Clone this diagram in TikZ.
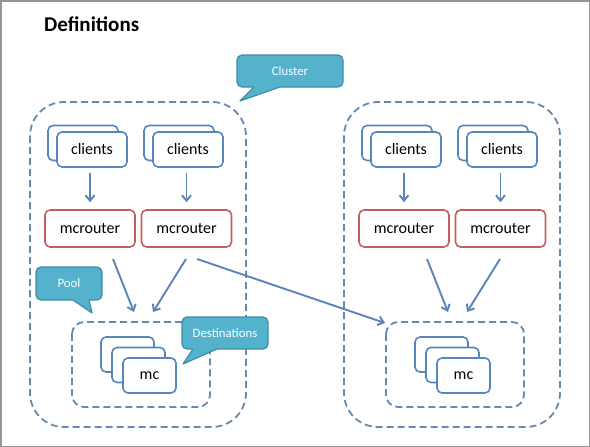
\documentclass[tikz,border=0pt]{standalone}
\usepackage{fontspec}
\setmainfont{Carlito}
\usetikzlibrary{arrows.meta}
\definecolor{boxblue}{RGB}{88,134,186}
\definecolor{dashblue}{RGB}{104,138,178}
\definecolor{arrblue}{RGB}{92,132,182}
\definecolor{mcred}{RGB}{192,96,96}
\definecolor{callfill}{RGB}{84,178,204}
\definecolor{callborder}{RGB}{62,142,168}
\definecolor{framegray}{RGB}{150,150,150}
\tikzset{
  bluebox/.style={draw=boxblue, line width=1.6pt, fill=white, rounded corners=5pt, inner sep=0pt,
    font=\fontsize{16}{18}\selectfont},
  clbox/.style={bluebox, minimum width=70pt, minimum height=35pt},
  mcbox/.style={bluebox, minimum width=53pt, minimum height=35pt},
  mrbox/.style={draw=mcred, line width=1.6pt, fill=white, rounded corners=5pt, inner sep=0pt,
    minimum width=90pt, minimum height=37pt, font=\fontsize{16}{18}\selectfont},
  dashbox/.style={draw=dashblue, line width=1.8pt, dash pattern=on 7pt off 4pt},
  arr/.style={draw=arrblue, line width=1.9pt, -{Straight Barb[length=5.5pt,width=9pt,line width=1.9pt]}},
  callbox/.style={fill=callfill, draw=callborder, line width=1.2pt, rounded corners=5pt},
  calltail/.style={draw=callborder, line width=1.2pt, line join=round},
  calltext/.style={text=white, font=\fontsize{12.8}{15}\selectfont, inner sep=0pt},
}
\begin{document}
\begin{tikzpicture}[x=1pt,y=-1pt]
\useasboundingbox (0,0) rectangle (590,447);
\fill[white] (0,0) rectangle (590,447);
\draw[framegray, line width=1.5pt] (0.75,0.75) rectangle (589.25,446.25);

\node[font=\bfseries\fontsize{21}{24}\selectfont, anchor=base west, inner sep=0pt] (title) at (44,31) {Definitions};

\foreach \ox/\p in {0/L,314/R}{
  % cluster and pool outlines
  \draw[dashbox, rounded corners=34pt] (30+\ox,102) rectangle (246+\ox,427);
  \draw[dashbox, rounded corners=12pt] (72+\ox,322) rectangle (210+\ox,407);
  % clients
  \node[clbox] (\p-cb1) at (83+\ox,143) {};
  \node[clbox] (\p-cf1) at (92+\ox,149.5) {clients};
  \node[clbox] (\p-cb2) at (179+\ox,143) {};
  \node[clbox] (\p-cf2) at (188+\ox,149.5) {clients};
  % mcrouters
  \node[mrbox] (\p-mr1) at (90+\ox,228.5) {mcrouter};
  \node[mrbox] (\p-mr2) at (186.5+\ox,228.5) {mcrouter};
  % mc stack
  \node[mcbox] (\p-mc1) at (127.5+\ox,354.5) {};
  \node[mcbox] (\p-mc2) at (138.5+\ox,365) {};
  \node[mcbox] (\p-mc3) at (149.5+\ox,375.5) {mc};
  % arrows
  \draw[arr, shorten <=5pt, shorten >=7pt] (\p-cf1.south -| \p-mr1.north) -- (\p-mr1.north);
  \draw[arr, shorten <=5pt, shorten >=7pt] (\p-cf2.south -| \p-mr2.north) -- (\p-mr2.north);
  \coordinate (\p-a1s) at (113+\ox,259);
  \coordinate (\p-a1e) at (134+\ox,312);
  \coordinate (\p-a2s) at (186+\ox,259);
  \coordinate (\p-a2e) at (153+\ox,312);
  \draw[arr] (\p-a1s) -- (\p-a1e);
  \draw[arr] (\p-a2s) -- (\p-a2e);
}
\coordinate (xs) at (197,259);
\coordinate (xe) at (385,323);
\draw[arr] (xs) -- (xe);

% Cluster callout
\draw[callbox] (237,55) rectangle (343,87);
\fill[callfill] (254,84) -- (254,87) -- (240,101) -- (280,87) -- (280,84) -- cycle;
\draw[calltail] (254,87) -- (240,101) -- (280,87);
\node[calltext] (cluster) at (290,71) {Cluster};

% Pool callout
\draw[callbox] (36,267) rectangle (102,300);
\fill[callfill] (73,297) -- (73,300) -- (92,313) -- (89,300) -- (89,297) -- cycle;
\draw[calltail] (73,300) -- (92,313) -- (89,300);
\node[calltext] (pool) at (69,283.5) {Pool};

% Destinations callout
\draw[callbox] (182,317) rectangle (268,349);
\fill[callfill] (193,346) -- (193,349) -- (183,364) -- (217,349) -- (217,346) -- cycle;
\draw[calltail] (193,349) -- (183,364) -- (217,349);
\node[calltext] (dest) at (225,333) {Destinations};
\end{tikzpicture}
\end{document}
